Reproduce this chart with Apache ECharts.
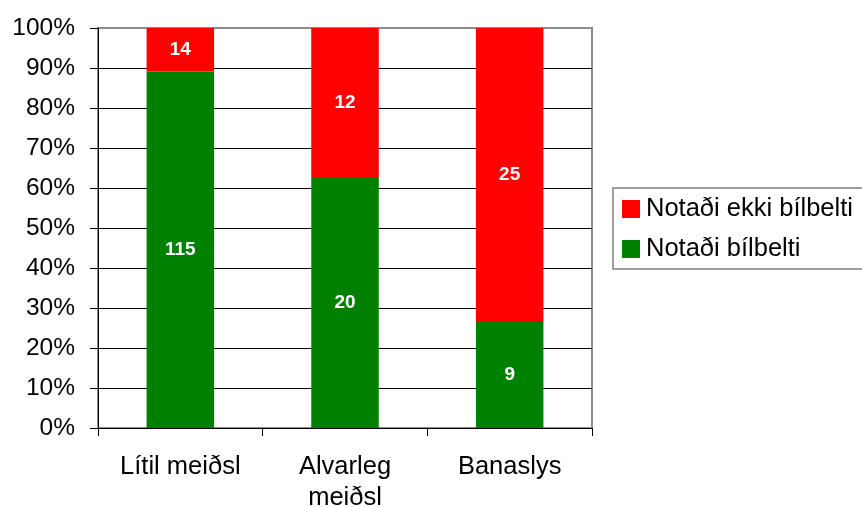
<!DOCTYPE html>
<html>
<head>
<meta charset="utf-8">
<script src="https://cdn.jsdelivr.net/npm/echarts@6/dist/echarts.min.js"></script>
<style>html,body{margin:0;padding:0;background:#fff}#c{width:862px;height:507px}</style>
</head>
<body>
<div id="c"></div>
<script>
const categories = ['Lítil meiðsl', 'Alvarleg\nmeiðsl', 'Banaslys'];
const usedBelt = [115, 20, 9];
const noBelt = [14, 12, 25];
const seriesNames = ['Notaði bílbelti', 'Notaði ekki bílbelti'];
const FONT = 'Liberation Sans, Arial, sans-serif';

const totals = categories.map((_, i) => usedBelt[i] + noBelt[i]);
const toPct = arr => arr.map((v, i) => ({ value: v / totals[i] * 100, raw: v }));

const chart = echarts.init(document.getElementById('c'), null, { renderer: 'canvas' });
const labelCfg = {
  show: true, position: 'inside', color: '#fff', fontWeight: 'bold',
  fontSize: 19, fontFamily: FONT, formatter: p => p.data.raw
};
chart.setOption({
  animation: false,
  backgroundColor: '#fff',
  textStyle: { fontFamily: FONT },
  grid: {
    left: 98, right: 270, top: 28, bottom: 79,
    outerBoundsMode: 'none', containLabel: false,
    show: true, borderColor: '#8c8c8c', borderWidth: 2, backgroundColor: 'transparent'
  },
  legend: {
    data: [seriesNames[1], seriesNames[0]],
    orient: 'vertical', left: 613, top: 188,
    borderColor: '#808080', borderWidth: 1.5, padding: [8, 30, 7, 9],
    itemWidth: 18, itemHeight: 18, itemGap: 14, icon: 'rect',
    textStyle: { fontSize: 25.5, color: '#000', fontFamily: FONT, padding: [0, 0, 0, 1] }
  },
  xAxis: {
    type: 'category', data: categories, boundaryGap: true,
    axisLine: { show: true, lineStyle: { color: '#000', width: 1 } },
    axisTick: { show: true, length: 8, lineStyle: { color: '#000' } },
    axisLabel: { fontSize: 25.5, color: '#000', fontFamily: FONT, margin: 23, lineHeight: 31, interval: 0 }
  },
  yAxis: {
    type: 'value', min: 0, max: 100, interval: 10,
    axisLine: { show: true, lineStyle: { color: '#000', width: 1 } },
    axisTick: { show: true, length: 8, lineStyle: { color: '#000' } },
    axisLabel: { fontSize: 24.5, color: '#000', fontFamily: FONT, margin: 23, formatter: '{value}%' },
    splitLine: { show: true, showMaxLine: false, lineStyle: { color: '#000', width: 1 } }
  },
  series: [
    { name: seriesNames[0], type: 'bar', stack: 'a', barWidth: '41%', data: toPct(usedBelt),
      itemStyle: { color: '#008000' }, label: labelCfg },
    { name: seriesNames[1], type: 'bar', stack: 'a', barWidth: '41%', data: toPct(noBelt),
      itemStyle: { color: '#ff0000' }, label: labelCfg }
  ]
});
</script>
</body>
</html>
